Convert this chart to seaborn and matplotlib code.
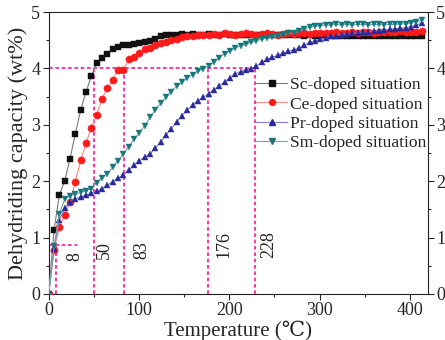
import matplotlib
matplotlib.use("Agg")
import matplotlib.pyplot as plt
from matplotlib.ticker import MultipleLocator
import numpy as np
import pandas as pd
import seaborn as sns

# Temperature readings (°C)
temperature = [
    0, 5.9, 11.8, 17.7, 23.6, 29.5, 35.4, 41.3, 47.2, 53.1,
    59.0, 64.9, 70.8, 76.7, 82.6, 88.5, 94.4, 100.3, 106.2, 112.1,
    118.0, 123.9, 129.8, 135.7, 141.6, 147.5, 153.4, 159.3, 165.2, 171.1,
    177.0, 182.9, 188.8, 194.7, 200.6, 206.5, 212.4, 218.3, 224.2, 230.1,
    236.0, 241.9, 247.8, 253.7, 259.6, 265.5, 271.4, 277.3, 283.2, 289.1,
    295.0, 300.9, 306.8, 312.7, 318.6, 324.5, 330.4, 336.3, 342.2, 348.1,
    354.0, 359.9, 365.8, 371.7, 377.6, 383.5, 389.4, 395.3, 401.2, 407.1,
    413.0,
]

# Dehydriding capacity (wt%)
sc_doped = [
    0, 1.13, 1.76, 2.00, 2.40, 2.84, 3.26, 3.58, 3.86, 4.09,
    4.18, 4.26, 4.34, 4.38, 4.41, 4.42, 4.44, 4.45, 4.47, 4.48,
    4.53, 4.57, 4.59, 4.60, 4.60, 4.61, 4.60, 4.61, 4.60, 4.60,
    4.61, 4.60, 4.60, 4.61, 4.60, 4.60, 4.60, 4.59, 4.60, 4.60,
    4.59, 4.60, 4.59, 4.59, 4.60, 4.59, 4.59, 4.59, 4.58, 4.59,
    4.58, 4.58, 4.59, 4.58, 4.58, 4.58, 4.58, 4.57, 4.58, 4.58,
    4.57, 4.58, 4.57, 4.57, 4.58, 4.57, 4.57, 4.57, 4.57, 4.57,
    4.57,
]
ce_doped = [
    0, 0.78, 1.18, 1.40, 1.63, 1.99, 2.37, 2.67, 2.95, 3.18,
    3.46, 3.65, 3.79, 3.97, 3.97, 4.16, 4.20, 4.28, 4.34, 4.37,
    4.42, 4.45, 4.47, 4.50, 4.53, 4.55, 4.57, 4.58, 4.59, 4.60,
    4.60, 4.61, 4.60, 4.62, 4.61, 4.60, 4.61, 4.62, 4.61, 4.60,
    4.61, 4.62, 4.61, 4.60, 4.61, 4.62, 4.61, 4.62, 4.63, 4.61,
    4.62, 4.63, 4.62, 4.63, 4.64, 4.62, 4.63, 4.64, 4.63, 4.64,
    4.65, 4.63, 4.64, 4.65, 4.64, 4.65, 4.66, 4.65, 4.64, 4.65,
    4.66,
]
pr_doped = [
    0, 0.80, 1.32, 1.52, 1.64, 1.68, 1.72, 1.75, 1.79, 1.82,
    1.87, 1.93, 1.99, 2.05, 2.11, 2.20, 2.28, 2.36, 2.43, 2.48,
    2.59, 2.69, 2.82, 2.93, 3.05, 3.16, 3.26, 3.35, 3.42, 3.49,
    3.55, 3.62, 3.69, 3.76, 3.83, 3.90, 3.94, 3.97, 3.99, 4.04,
    4.11, 4.16, 4.20, 4.23, 4.27, 4.30, 4.33, 4.36, 4.41, 4.46,
    4.49, 4.52, 4.54, 4.57, 4.58, 4.60, 4.61, 4.62, 4.63, 4.64,
    4.65, 4.66, 4.67, 4.68, 4.69, 4.70, 4.71, 4.72, 4.74, 4.77,
    4.80,
]
sm_doped = [
    0, 0.85, 1.42, 1.68, 1.74, 1.77, 1.80, 1.83, 1.87, 1.97,
    2.06, 2.13, 2.25, 2.36, 2.48, 2.61, 2.74, 2.86, 2.98, 3.13,
    3.27, 3.38, 3.49, 3.59, 3.68, 3.76, 3.83, 3.89, 3.95, 3.99,
    4.04, 4.12, 4.19, 4.26, 4.31, 4.36, 4.40, 4.43, 4.46, 4.49,
    4.52, 4.54, 4.56, 4.58, 4.60, 4.62, 4.63, 4.66, 4.70, 4.73,
    4.75, 4.76, 4.77, 4.77, 4.78, 4.77, 4.78, 4.77, 4.78, 4.78,
    4.77, 4.78, 4.78, 4.77, 4.78, 4.78, 4.79, 4.79, 4.81, 4.83,
    4.85,
]

series_names = ["Sc-doped situation", "Ce-doped situation",
                "Pr-doped situation", "Sm-doped situation"]
series_values = [sc_doped, ce_doped, pr_doped, sm_doped]

# Onset temperatures reaching 4 wt%, and the 0.87 wt% marker at 8 °C
onset_temps = [50, 83, 176, 228]
onset_level = 4
early_temp = 8
early_level = 0.87
label_texts = ["8", "50", "83", "176", "228"]

df = pd.concat(
    [pd.DataFrame({"Temperature": temperature, "Capacity": v, "Sample": n})
     for n, v in zip(series_names, series_values)],
    ignore_index=True,
)

line_colors = {"Sc-doped situation": "#7a7a7a", "Ce-doped situation": "#ff8a80",
               "Pr-doped situation": "#8080c8", "Sm-doped situation": "#6fa8ac"}
marker_colors = {"Sc-doped situation": "#111111", "Ce-doped situation": "#ff1a1a",
                 "Pr-doped situation": "#2a2a9a", "Sm-doped situation": "#17777d"}
marker_shapes = {"Sc-doped situation": "s", "Ce-doped situation": "o",
                 "Pr-doped situation": "^", "Sm-doped situation": "v"}

sns.set_theme(style="ticks")
plt.rcParams["font.family"] = ["Liberation Serif", "DejaVu Serif"]
plt.rcParams["mathtext.fontset"] = "stix"

fig = plt.figure(figsize=(4.45, 3.4), dpi=100)
ax = fig.add_axes([0.1094, 0.1353, 0.8524, 0.8294])

pink = "#ff1493"
dash = (0, (2.2, 1.6))
# guide lines
ax.plot([0, onset_temps[-1]], [onset_level, onset_level], color=pink, lw=1.2,
        linestyle=dash, zorder=1)
for t in onset_temps:
    ax.plot([t, t], [0, onset_level], color=pink, lw=1.2, linestyle=dash, zorder=1)
ax.plot([early_temp, early_temp], [0, early_level], color=pink, lw=1.2,
        linestyle=dash, zorder=1)
ax.plot([0, 31], [early_level, early_level], color=pink, lw=1.2,
        linestyle=dash, zorder=1)

for name in series_names:
    sub = df[df["Sample"] == name]
    sns.lineplot(data=sub, x="Temperature", y="Capacity", ax=ax,
                 color=line_colors[name], lw=0.8, marker=marker_shapes[name],
                 markersize=4.8 if marker_shapes[name] != "o" else 5.2,
                 markerfacecolor=marker_colors[name],
                 markeredgecolor=marker_colors[name], markeredgewidth=0.3,
                 label=name, zorder=3, legend=False)

handles = [plt.Line2D([], [], color=line_colors[n], lw=0.8, marker=marker_shapes[n],
                      markersize=4.2, markerfacecolor=marker_colors[n],
                      markeredgecolor=marker_colors[n]) for n in series_names]
ax.legend(handles, series_names, loc="upper left", bbox_to_anchor=(0.546, 0.77),
          frameon=False, fontsize=12.6, handlelength=1.8, handletextpad=0.18,
          labelspacing=0.18, borderaxespad=0, borderpad=0)

# rotated temperature labels
text_pos = [(29, 0.66), (62, 0.78), (103, 0.78), (194, 0.87), (244, 0.87)]
for s, (x, y) in zip(label_texts, text_pos):
    ax.text(x, y, s, rotation=90, ha="center", va="center", fontsize=13)

ax.set_xlim(0, 420)
ax.set_ylim(0, 5)
ax.xaxis.set_major_locator(MultipleLocator(100))
ax.xaxis.set_minor_locator(MultipleLocator(50))
ax.yaxis.set_major_locator(MultipleLocator(1))
ax.yaxis.set_minor_locator(MultipleLocator(0.5))
ax.tick_params(axis="both", which="major", direction="out", length=4, width=0.8,
               labelsize=13, pad=2)
ax.tick_params(axis="both", which="minor", direction="out", length=2.5, width=0.8)
ax.tick_params(axis="y", which="both", left=True, right=True, labelright=True)
ax.tick_params(axis="x", which="both", top=False)
for sp in ax.spines.values():
    sp.set_linewidth(0.8)
    sp.set_color("#222222")

ax.set_xlabel("Temperature (℃)", fontsize=15, labelpad=1)
ax.set_ylabel("Dehydriding capacity (wt%)", fontsize=16, labelpad=2)

fig.savefig("out.png", dpi=100)
